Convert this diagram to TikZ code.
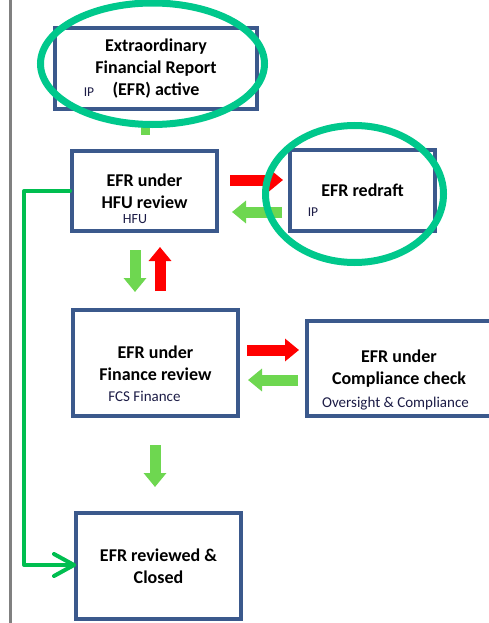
\documentclass[tikz,border=0pt]{standalone}
\usepackage{fontspec}
\setmainfont{Carlito}
\usetikzlibrary{arrows.meta,calc}
\definecolor{boxblue}{RGB}{59,89,140}
\definecolor{ringgreen}{RGB}{0,200,140}
\definecolor{linegreen}{RGB}{0,190,80}
\definecolor{arrgreen}{RGB}{110,215,80}
\definecolor{arrred}{RGB}{255,0,0}
\definecolor{subtext}{RGB}{28,28,70}
\begin{document}
\begin{tikzpicture}[x=1pt,y=-1pt,
  stagebox/.style={draw=boxblue,line width=4pt,fill=white,inner sep=0pt,align=center,
    font=\fontsize{18}{22}\selectfont\bfseries},
  subtxt/.style={font=\fontsize{15}{18}\selectfont,text=subtext,inner sep=0pt},
  blockarrow/.style={line width=11pt,-{Triangle[width=22pt,length=14pt]}},
  ring/.style={draw=ringgreen,line width=7pt},
  greenline/.style={draw=linegreen,line width=4pt,line join=round,line cap=round}]

\useasboundingbox (0,0) rectangle (489,623);
\fill[white] (0,0) rectangle (489,623);

% left margin rule
\draw[gray,line width=3pt] (10,-5) -- (10,630);

% green bypass line
\coordinate (lbend) at (24,191);
\coordinate (chev) at (74,565);

% boxes
\node[stagebox,minimum width=202pt,minimum height=81pt] (efr) at (156,68.5)
  {Extraordinary\\Financial Report\\(EFR) active};
\node[stagebox,minimum width=145pt,minimum height=80pt] (hfu) at (144.5,191)
  {EFR under\\HFU review};
\node[stagebox,minimum width=145pt,minimum height=81pt] (redraft) at (362.5,190.5)
  {EFR redraft};
\node[stagebox,minimum width=165pt,minimum height=106pt] (fin) at (155.5,363)
  {EFR under\\Finance review};
\node[stagebox,minimum width=184pt,minimum height=95pt] (comp) at (399,368.5)
  {EFR under\\Compliance check};
\node[stagebox,minimum width=165pt,minimum height=106pt] (closed) at (158.5,566)
  {EFR reviewed \&\\Closed};

% sub labels
\node[subtxt,font=\fontsize{13.5}{16}\selectfont] (ip1) at (89,92) {IP};
\node[subtxt,font=\fontsize{14}{16}\selectfont] (hfulab) at (135,219) {HFU};
\node[subtxt,font=\fontsize{13.5}{16}\selectfont] (ip2) at (313,212) {IP};
\node[subtxt] (fcs) at (144.5,396) {FCS Finance};
\node[subtxt,anchor=base] (ovs) at (395.5,407) {Oversight \& Compliance};

% green bypass connector
\draw[greenline] (hfu.west) -- (lbend) |- (chev);
\draw[greenline,line cap=round] ($(chev)+(-20,-11)$) -- (chev) -- ($(chev)+(-20,11)$);

% block arrows
\coordinate (a1s) at (230,180); \coordinate (a1e) at (283,180);
\coordinate (a2s) at (282,212); \coordinate (a2e) at (232,212);
\coordinate (a3s) at (135,250); \coordinate (a3e) at (135,292);
\coordinate (a4s) at (160,291); \coordinate (a4e) at (160,247);
\coordinate (a5s) at (247,350); \coordinate (a5e) at (299,350);
\coordinate (a6s) at (298,380); \coordinate (a6e) at (248,380);
\coordinate (a7s) at (155,445); \coordinate (a7e) at (155,487);
\draw[blockarrow,arrred] (a1s) -- (a1e);
\draw[blockarrow,arrgreen] (a2s) -- (a2e);
\draw[blockarrow,arrgreen] (a3s) -- (a3e);
\draw[blockarrow,arrred] (a4s) -- (a4e);
\draw[blockarrow,arrred] (a5s) -- (a5e);
\draw[blockarrow,arrgreen] (a6s) -- (a6e);
\draw[blockarrow,arrgreen] (a7s) -- (a7e);

% small green stub under first box
\fill[arrgreen] (141,125) rectangle (150,135);

% highlight rings
\draw[ring] (152.5,63.75) ellipse [x radius=112pt,y radius=60.75pt];
\draw[ring] (354.5,194) ellipse [x radius=89pt,y radius=68.5pt];
\end{tikzpicture}
\end{document}
